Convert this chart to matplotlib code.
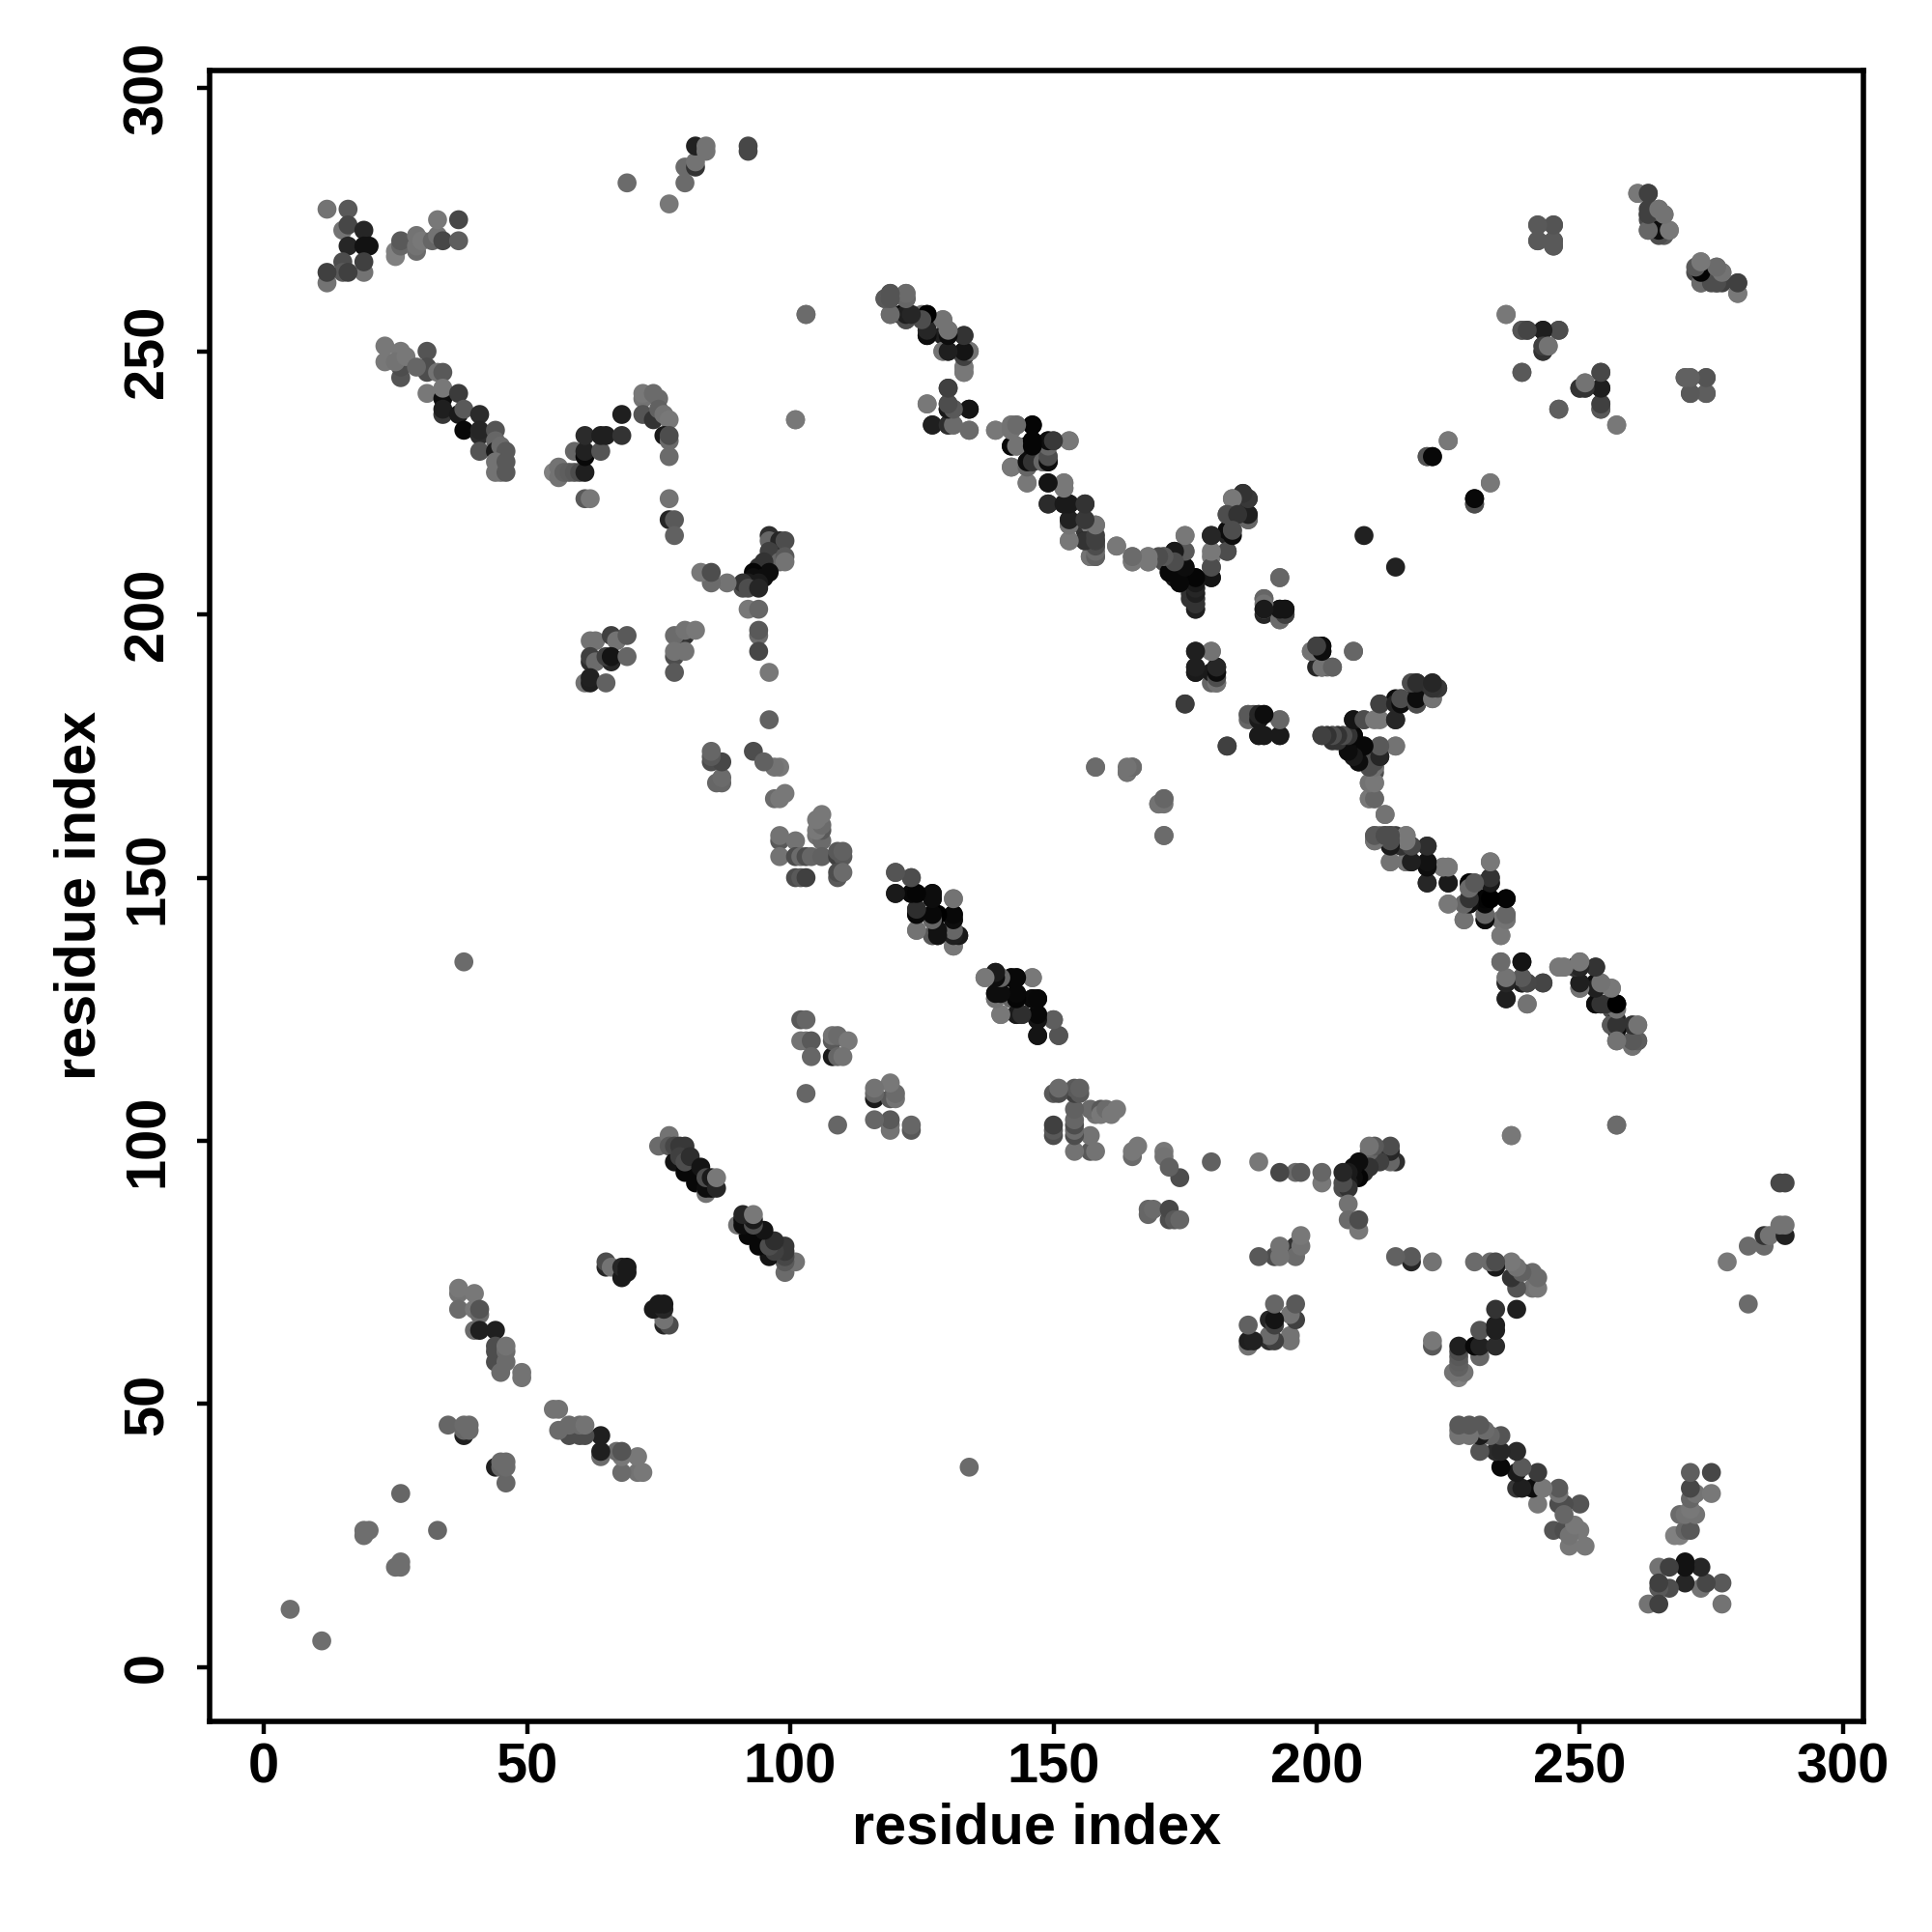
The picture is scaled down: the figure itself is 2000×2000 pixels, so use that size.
import numpy as np
import matplotlib
matplotlib.use("Agg")
import matplotlib.pyplot as plt

plt.rcParams['font.family'] = ['Liberation Sans', 'DejaVu Sans']

# Contacts (residue i, residue j, grey level); the map is symmetric, only i<j is listed.
contacts_a = [(12,277,.45),(16,277,.35),(15,273,.45),(16,274,.28),(19,273,.15),(16,270,.15),(19,270,.07),(20,270,.07),
 (15,267,.3),(19,265,.45),(19,267,.25),(15,265,.35),(16,265,.25),(12,263,.45),(12,265,.25),
 (25,268,.5),(25,269,.5),(26,270,.4),(26,271,.35),(29,269,.42),(29,270,.45),(29,272,.45),(30,271,.47),
 (32,271,.4),(33,272,.45),(33,275,.47),(34,271,.28),(37,275,.28),(37,271,.37)]
contacts_b = [(69,282,.42),(77,278,.47),(80,282,.42),(80,285,.42),(82,285,.2),(82,286,.45),(82,289,.13),(84,288,.45),(84,289,.45),
 (92,289,.28),(92,288,.28),(103,257,.42),(101,237,.47),(38,134,.42)]
contacts_c = [(23,251,.47),(23,248,.47),(26,245,.33),(26,247,.3),(26,250,.47),(25,248,.45),(27,249,.47),
 (31,250,.33),(31,246,.3),(31,247,.3),(29,247,.4),(33,246,.45),(34,246,.35),(31,242,.47),(34,241,.05),(34,243,.47),
 (34,238,.22),(34,239,.12),(37,242,.23),(37,238,.1),(38,239,.35),(41,238,.17),(38,235,.03),(41,234,.17),(41,235,.15),
 (44,235,.33),(44,233,.4),(41,231,.33),(44,231,.1),(45,232,.42),(46,231,.35),(44,229,.45),(44,227,.45),(45,227,.45),(46,229,.35),(46,227,.35)]
contacts_d = [(55,227,.5),(56,228,.45),(56,226,.45),(57,227,.38),(58,227,.37),(59,227,.35),(60,227,.3),(61,227,.12),
 (59,231,.4),(61,230,.03),(61,231,.13),(64,231,.33),(61,234,.17),(64,234,.12),(65,234,.12),(68,234,.2),(68,238,.12),
 (61,222,.35),(62,222,.47),(72,241,.45),(72,242,.47),(74,242,.42),(75,241,.42),(72,238,.33),(74,237,.2),(75,239,.38),
 (76,238,.45),(77,237,.47),(76,234,.1),(77,233,.42),(77,234,.3),(77,230,.42),(77,222,.45),(77,218,.15),(78,218,.35),(78,215,.38)]
contacts_e = [(96,215,.18),(96,214,.4),(98,214,.15),(99,214,.3),(96,211,.3),(96,212,.25),(98,210,.4),(99,211,.35),(99,210,.45),
 (95,210,.2),(94,209,.2),(96,208,.05),(93,208,.02),(95,207,.05),(93,207,.05),(94,206,.1),(92,206,.1),(91,205,.3),(91,206,.2),
 (92,205,.3),(94,205,.15),(88,206,.45),(85,206,.42),(83,208,.47),(85,208,.3),(92,201,.47),(94,201,.4),(94,196,.42),(94,197,.35),(94,193,.28),(96,189,.47),(96,180,.38)]
contacts_f = [(62,195,.45),(63,195,.45),(66,196,.25),(67,195,.45),(69,196,.35),(62,191,.18),(62,192,.25),(63,191,.42),
 (66,191,.15),(65,192,.25),(66,192,.08),(69,192,.4),(61,187,.45),(62,187,.12),(62,188,.13),(65,187,.38),
 (80,196,.2),(78,196,.42),(80,197,.45),(82,197,.47),(78,192,.3),(78,193,.45),(80,193,.45),(78,189,.35)]
contacts_g = [(118,260,.45),(119,261,.37),(119,260,.35),(122,260,.2),(122,261,.45),(121,257,.05),(122,256,.35),(122,257,.2),(119,257,.45),(125,257,.45),
 (126,253,.05),(126,254,.2),(126,255,.2),(126,257,.0),(129,253,.12),(129,256,.47),(130,254,.45),(133,253,.2),(129,250,.45),(130,250,.12),
 (133,249,.2),(133,250,.15),(134,250,.47),(133,247,.47),(133,246,.47),(130,243,.27),(126,240,.45),(130,239,.12),(130,240,.28),(131,239,.35),(134,239,.08),
 (127,236,.12),(130,236,.15),(131,236,.45),(134,235,.42)]
contacts_h = [(139,235,.47),(142,236,.45),(143,236,.4),(146,236,.02),(142,232,.05),(143,232,.4),(145,232,.03),(146,232,.02),(146,233,.0),
 (149,233,.1),(150,233,.2),(153,233,.47),(142,228,.45),(145,229,.05),(145,228,.4),(146,229,.2),(149,229,.02),(148,229,.42),(149,230,.35),
 (145,225,.47),(149,225,.1),(152,224,.47),(152,225,.47),(149,221,.15),(152,221,.05),(153,221,.07),(156,221,.18),(153,217,.45),(153,218,.12),
 (156,216,.2),(156,218,.28),(157,217,.47),(158,217,.47),(153,214,.45),(156,214,.1),(157,214,.3),(157,211,.45),(158,211,.35),(158,213,.3),(158,214,.3)]
contacts_i = [(162,213,.45),(165,210,.47),(165,211,.4),(168,210,.45),(168,211,.47),(171,211,.45),(171,210,.3),(172,211,.3),(173,212,.15),(175,215,.45),(175,212,.35),
 (172,208,.05),(175,209,.03),(173,207,.1),(174,206,.05),(176,203,.2),(176,204,.2),(177,207,.03),(177,206,.2),(177,205,.3),(177,204,.2),(177,203,.3),(177,202,.2),(177,201,.25),
 (180,207,.08),(180,209,.3),(180,211,.47),(180,215,.15),(183,212,.25),(183,215,.15),(183,216,.05),(184,216,.3),(183,219,.3),(184,219,.05),
 (187,218,.3),(187,219,.18),(184,222,.45),(186,223,.22),(186,222,.2),(187,222,.15),(209,215,.13),(225,233,.47),(221,230,.3),(222,230,.03),(233,225,.47),(230,221,.33),(230,222,.03)]
contacts_j = [(193,207,.4),(190,200,.15),(190,201,.45),(190,203,.38),(193,199,.45),(193,201,.05),(194,201,.05),(194,200,.25),
 (177,193,.1),(180,193,.4),(177,190,.1),(177,189,.1),(180,187,.4),(181,187,.35),(180,189,.1),(181,189,.15),(181,190,.05),(175,183,.25),(183,175,.23),
 (187,181,.45),(188,181,.3),(189,181,.05),(190,181,.15),(193,180,.45),(189,177,.1),(190,177,.12),(193,177,.12),
 (199,193,.42),(200,194,.25),(201,194,.08),(201,193,.08),(203,190,.4),(202,190,.45),(201,190,.1),(207,193,.4)]
contacts_k = [(218,187,.4),(219,187,.12),(222,187,.22),(223,186,.2),(222,184,.47),(219,183,.3),(219,185,.2),(212,183,.3),(215,184,.05),(216,184,.3),
 (207,180,.08),(209,180,.3),(212,180,.47),(215,180,.15),(201,177,.12),(202,177,.2),(203,177,.2),(204,177,.12),(205,177,.15),(206,177,.1),(207,177,.02),
 (206,174,.03),(208,172,.03),(209,175,.05),(212,175,.35),(215,175,.47),(212,173,.1),(210,173,.3),(211,171,.35),(211,170,.3),(210,168,.47),(211,168,.47),(210,165,.47),(211,165,.42),(213,162,.47)]
contacts_l = [(158,171,.42),(164,170,.45),(165,171,.4),(170,164,.45),(171,165,.42),(171,164,.45),(171,158,.42),
 (211,157,.45),(211,158,.38),(212,158,.42),(213,158,.3),(214,156,.2),(214,158,.25),(215,158,.25),(214,153,.47),(217,153,.45),(217,158,.45),
 (218,153,.13),(218,156,.22),(221,149,.17),(221,152,.1),(221,153,.1),(221,156,.2),(224,152,.47),(225,152,.47),(225,149,.08),(225,145,.47),(228,142,.47),(228,145,.4),
 (229,145,.05),(229,146,.2),(229,148,.4),(229,149,.05),(230,149,.3),(232,149,.4),(233,153,.47),(233,149,.05),(233,150,.22),(232,142,.03),(232,143,.45),(232,146,.02),(233,146,.02),(236,146,.02),
 (235,139,.47),(235,142,.45),(236,142,.45),(236,143,.42)]
contacts_m = [(235,134,.42),(239,134,.08),(236,127,.12),(236,130,.18),(236,131,.42),(239,130,.1),(239,131,.35),(240,130,.3),(243,130,.25),(240,126,.47),
 (246,133,.47),(247,133,.47),(249,133,.25),(250,134,.45),(250,133,.08),(253,133,.2),(250,129,.45),(250,130,.12),(253,130,.05),(254,130,.45),(256,129,.45),
 (253,126,.05),(254,126,.15),(257,126,.0),(256,125,.3),(256,122,.3),(257,122,.12),(257,123,.15),(260,122,.4),(261,122,.42),(257,119,.42),(260,118,.35),(260,119,.33),(261,119,.33),(257,103,.42),(237,101,.47)]
contacts_n = [(242,274,.37),(245,274,.33),(242,271,.35),(245,270,.38),(245,271,.38),(236,257,.47),(239,254,.35),(240,254,.25),(243,254,.12),(246,254,.28),
 (243,250,.2),(243,251,.2),(244,251,.45),(239,246,.37),(246,239,.35),(254,246,.3),(254,243,.12),(250,243,.2),(251,243,.25),(251,244,.45),(254,239,.33),(254,240,.27),(257,236,.47),
 (261,280,.47),(263,280,.25),(263,273,.42),(263,275,.3),(263,276,.3),(265,273,.02),(266,272,.35),(265,277,.45),(266,276,.42),(267,273,.47),
 (272,265,.3),(273,265,.05),(273,263,.4),(273,267,.47),(276,263,.25),(277,263,.25),(276,266,.45),(277,265,.45),(280,261,.47),(280,263,.25),
 (270,245,.35),(271,245,.35),(274,245,.33),(271,242,.35),(274,242,.35)]
contacts_o = [(98,171,.47),(97,171,.45),(93,174,.3),(95,172,.38),(97,165,.42),(98,165,.47),(99,166,.47),(87,168,.4),(86,168,.4),(87,169,.42),(85,172,.3),(87,172,.28),(85,173,.35),(85,174,.4),
 (98,157,.35),(98,158,.45),(101,157,.45),(98,154,.45),(101,154,.3),(102,154,.42),(103,154,.3),(104,154,.4),(101,150,.3),(102,150,.35),(103,150,.25),
 (105,158,.45),(106,157,.42),(106,154,.38),(106,159,.35),(105,159,.47),(106,160,.42),(105,161,.47),(106,162,.47),(109,154,.25),(110,154,.35),(109,155,.35),(110,155,.38),
 (109,150,.35),(109,151,.3),(110,151,.42)]
contacts_p = [(120,151,.33),(123,150,.37),(120,147,.08),(123,147,.08),(124,147,.03),(127,146,.04),(127,147,.03),(131,146,.47),(124,143,.1),(124,144,.18),(127,143,.02),(128,143,.03),
 (131,142,.03),(131,143,.03),(124,140,.47),(127,139,.45),(128,139,.05),(128,140,.05),(131,140,.4),(131,139,.05),(132,139,.1),(131,137,.47),
 (137,131,.47),(139,132,.1),(139,131,.12),(140,131,.4),(142,131,.05),(143,131,.03),(146,131,.45),(139,127,.35),(139,128,.07),(140,128,.07),(143,128,.0),(142,127,.4),(143,127,.03),
 (146,127,.05),(147,127,.05),(140,124,.45),(143,124,.03),(144,124,.18),(147,123,.03),(147,124,.02),(150,123,.3),(147,120,.1),(151,120,.33)]
contacts_q = [(102,123,.35),(103,123,.4),(102,119,.45),(103,119,.45),(104,119,.35),(104,116,.4),(103,109,.4),(108,116,.1),(108,119,.35),(108,120,.45),(109,120,.42),(111,119,.47),(109,116,.4),(110,116,.45),
 (75,99,.42),(77,101,.45),(77,99,.35),(78,96,.08),(78,99,.28),(79,99,.22),(80,99,.22),(79,97,.25),(80,94,.03),(80,96,.3),(81,97,.18),(82,92,.03),(83,95,.08),(84,90,.45),(84,91,.05),(85,91,.05),(84,93,.3),(85,93,.1),(86,91,.15),(86,93,.47),
 (65,76,.15),(65,77,.3),(66,76,.45),(68,74,.1),(68,76,.15),(69,75,.1),(69,76,.1)]
contacts_r = [(5,11,.43),(19,25,.43),(19,26,.43),(20,26,.43),(26,33,.4),(35,46,.4),(38,44,.12),(38,45,.4),(38,46,.42),(39,46,.42),(39,45,.42),
 (37,71,.45),(37,72,.47),(37,68,.42),(40,71,.47),(40,68,.47),(41,67,.42),(41,68,.33),(40,64,.42),(41,64,.12),(44,64,.12),
 (44,58,.3),(44,60,.3),(44,61,.3),(46,58,.42),(46,60,.42),(46,61,.45),(45,56,.42),(49,55,.45),(49,56,.45)]

contact_groups = [contacts_a, contacts_b, contacts_c, contacts_d, contacts_e, contacts_f, contacts_g, contacts_h, contacts_i,
                  contacts_j, contacts_k, contacts_l, contacts_m, contacts_n, contacts_o, contacts_p, contacts_q, contacts_r]
tick_values = [0, 50, 100, 150, 200, 250, 300]
axis_label = "residue index"

rows = np.array([c for g in contact_groups for c in g], dtype=float)
xs = np.concatenate([rows[:, 0], rows[:, 1]])
ys = np.concatenate([rows[:, 1], rows[:, 0]])
gs = np.concatenate([rows[:, 2], rows[:, 2]])

fig = plt.figure(figsize=(10, 10), dpi=200)
ax = fig.add_axes([217/2000, 1-1782/2000, (1928.6-217)/2000, (1782-72.7)/2000])
ax.scatter(xs, ys, s=50, c=[str(g) for g in gs], linewidths=0, zorder=3)
ax.set_xlim(-10.3, 303.8)
ax.set_ylim(-10.3, 303.4)
ax.set_xticks(tick_values)
ax.set_yticks(tick_values)
for s in ax.spines.values():
    s.set_linewidth(2.0)
ax.tick_params(axis='both', length=4.6, width=1.6, labelsize=20.8)
for t in ax.get_xticklabels():
    t.set_fontweight('bold')
ax.tick_params(axis='x', pad=3)
ax.tick_params(axis='y', pad=8.5)
for t in ax.get_yticklabels():
    t.set_fontweight('bold')
    t.set_rotation(90)
    t.set_va('center')
ax.set_xlabel(axis_label, fontsize=21.4, fontweight='bold')
ax.set_ylabel(axis_label, fontsize=21.4, fontweight='bold')
ax.xaxis.set_label_coords(0.5, -0.049)
ax.yaxis.set_label_coords(-0.062, 0.5)
fig.savefig("out.png", dpi=200)
